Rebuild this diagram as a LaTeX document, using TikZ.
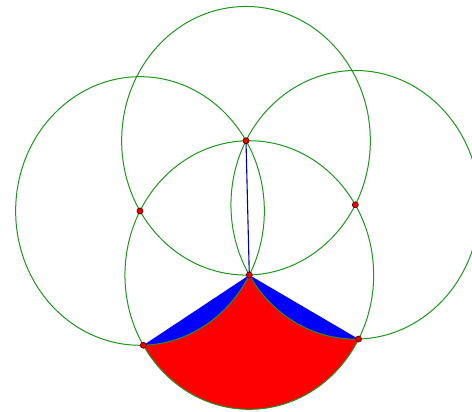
\documentclass[tikz,border=0pt]{standalone}
\definecolor{circgreen}{RGB}{30,150,30}
\definecolor{ptred}{RGB}{230,0,0}
\definecolor{segblue}{RGB}{0,0,170}
\begin{document}
\begin{tikzpicture}[x=1pt,y=1pt,
  circ/.style={draw=circgreen, line width=1pt},
  pnt/.style={circle, fill=ptred, draw=black!60!red, line width=0.7pt, inner sep=0pt, minimum size=6pt}]
\useasboundingbox (0,0) rectangle (472,-412);
\clip (0,0) rectangle (472,-412);
\fill[white] (0,0) rectangle (472,-412);
\begin{scope}[yscale=1.08]
\coordinate (A) at (246,-130.3);
\coordinate (B) at (249.3,-254.6);
\coordinate (C) at (140.00,-195.31);
\coordinate (D) at (355.30,-189.59);
\coordinate (E) at (143.30,-319.61);
\coordinate (F) at (358.60,-313.89);
\fill[blue] (E) -- (B) -- (F) -- cycle;
\fill[red] (E) arc[start angle=211.52, end angle=331.52, radius=124.344]
  arc[start angle=271.52, end angle=211.52, radius=124.344]
  arc[start angle=331.52, end angle=271.52, radius=124.344] -- cycle;
\foreach \c in {A,B,C,D} \draw[circ] (\c) circle[radius=124.344];
\draw[segblue, line width=1.1pt] (A) -- (B);
\node[pnt] (nA) at (A) {};
\node[pnt] (nB) at (B) {};
\node[pnt] (nC) at (C) {};
\node[pnt] (nD) at (D) {};
\node[pnt] (nE) at (E) {};
\node[pnt] (nF) at (F) {};
\end{scope}
\end{tikzpicture}
\end{document}
